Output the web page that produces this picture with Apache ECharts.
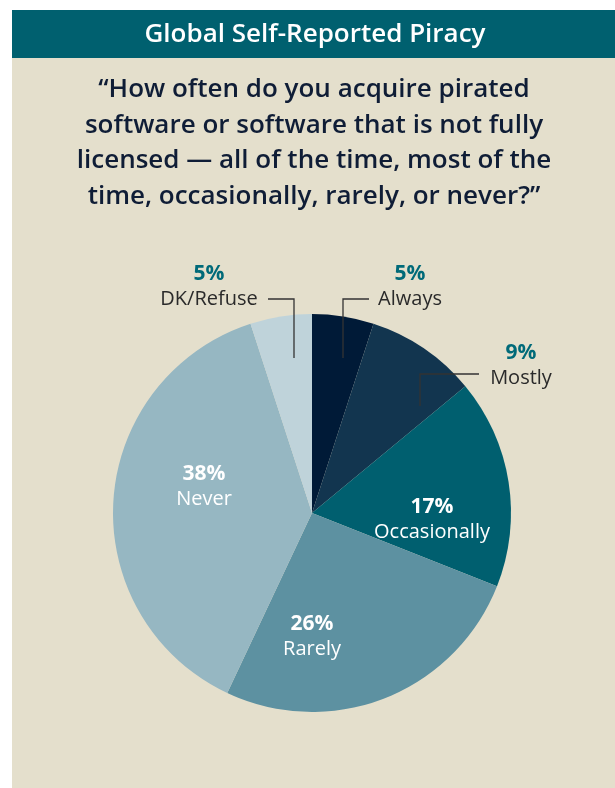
<!DOCTYPE html>
<html>
<head>
<meta charset="utf-8">
<script src="https://cdn.jsdelivr.net/npm/echarts@6/dist/echarts.min.js"></script>
<style>
  html, body { margin: 0; padding: 0; background: #ffffff; }
  #chart { width: 615px; height: 788px; }
</style>
</head>
<body>
<div id="chart"></div>
<script>
// Survey answers and their shares (percent of respondents)
const categories = ['Always', 'Mostly', 'Occasionally', 'Rarely', 'Never', 'DK/Refuse'];
const shares = [5, 9, 17, 26, 38, 5];

const headerTitle = 'Global Self-Reported Piracy';
const questionLines = [
  '\u201CHow often do you acquire pirated',
  'software or software that is not fully',
  'licensed \u2014 all of the time, most of the',
  'time, occasionally, rarely, or never?\u201D'
];

// ---- styling / layout ----
const FONT = '"Open Sans", Lato, sans-serif';
const sliceColors = ['#001a37', '#12354f', '#005f6f', '#5d91a1', '#96b7c2', '#bfd3da'];
const insideLabels = ['Occasionally', 'Rarely', 'Never'];
const pieCenter = [312, 513];
const pieRadius = 199;

// centre of each two-line label block, as an offset from the pie centre
const labelSpots = {
  'Always': [98, -226],
  'Mostly': [209, -147],
  'Occasionally': [120, 7],
  'Rarely': [0, 124],
  'Never': [-108, -26],
  'DK/Refuse': [-103, -226]
};
// elbow leader lines for the small slices: inside the slice -> corner -> beside the text
const leaderPaths = {
  'Always': [[31, -155], [31, -214], [57, -214]],
  'Mostly': [[108, -107], [108, -139], [167, -139]],
  'DK/Refuse': [[-18, -155], [-18, -214], [-44, -214]]
};

const toPx = (off) => [pieCenter[0] + off[0], pieCenter[1] + off[1]];

function labelRich(pctColor, nameColor) {
  return {
    p: { color: pctColor, fontFamily: FONT, fontWeight: 'bold', fontSize: 21, lineHeight: 25, align: 'center' },
    n: { color: nameColor, fontFamily: FONT, fontWeight: 'normal', fontSize: 20, lineHeight: 26, align: 'center' }
  };
}

const pieData = categories.map((name, i) => {
  const inside = insideLabels.indexOf(name) >= 0;
  return {
    name: name,
    value: shares[i],
    itemStyle: { color: sliceColors[i] },
    label: {
      show: true,
      position: inside ? 'inside' : 'outside',
      formatter: '{p|{c}%}\n{n|{b}}',
      rich: inside ? labelRich('#ffffff', '#ffffff') : labelRich('#006a79', '#2a2a2a')
    },
    labelLine: { show: false }
  };
});

// leader lines drawn on top of the slices
const leaderGraphics = Object.keys(leaderPaths).map((name) => ({
  type: 'polyline',
  z: 10,
  silent: true,
  shape: { points: leaderPaths[name].map(toPx) },
  style: { stroke: '#333333', lineWidth: 1.3, fill: null }
}));

const chart = echarts.init(document.getElementById('chart'), null, { renderer: 'canvas' });

chart.setOption({
  animation: false,
  backgroundColor: '#ffffff',
  graphic: [
    { type: 'rect', z: 0, silent: true, shape: { x: 12, y: 10, width: 603, height: 778 }, style: { fill: '#e4dfcc' } },
    { type: 'rect', z: 0, silent: true, shape: { x: 12, y: 10, width: 603, height: 48 }, style: { fill: '#00606f' } }
  ].concat(leaderGraphics),
  title: [
    {
      text: headerTitle,
      left: 315, top: 19, padding: 0,
      textAlign: 'center',
      textStyle: { color: '#ffffff', fontFamily: FONT, fontWeight: 600, fontSize: 26, lineHeight: 32 }
    },
    {
      text: questionLines.join('\n'),
      left: 314, top: 72, padding: 0,
      textAlign: 'center',
      textStyle: { color: '#0f1d36', fontFamily: FONT, fontWeight: 600, fontSize: 26, lineHeight: 35.5 }
    }
  ],
  series: [{
    type: 'pie',
    center: pieCenter,
    radius: pieRadius,
    startAngle: 90,
    clockwise: true,
    avoidLabelOverlap: false,
    silent: true,
    data: pieData,
    labelLayout: function (params) {
      const name = categories[params.dataIndex];
      const spot = toPx(labelSpots[name]);
      return { x: spot[0], y: spot[1], align: 'center', verticalAlign: 'middle' };
    }
  }]
});
</script>
</body>
</html>
